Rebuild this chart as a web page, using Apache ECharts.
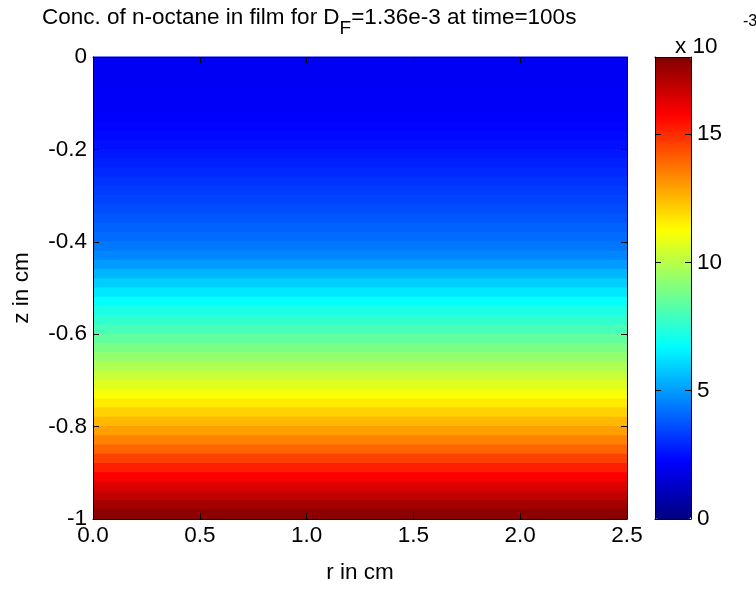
<!DOCTYPE html>
<html><head><meta charset="utf-8">
<script src="https://cdn.jsdelivr.net/npm/echarts@6/dist/echarts.min.js"></script>
<style>html,body{margin:0;padding:0;background:#fff}#c{width:756px;height:596px}</style>
</head><body><div id="c"></div>
<script>
// ---- data ----
const rRange = [0, 2.5];
const zCenters = [-0.01,-0.03,-0.05,-0.07,-0.09,-0.11,-0.13,-0.15,-0.17,-0.19,
  -0.21,-0.23,-0.25,-0.27,-0.29,-0.31,-0.33,-0.35,-0.37,-0.39,
  -0.41,-0.43,-0.45,-0.47,-0.49,-0.51,-0.53,-0.55,-0.57,-0.59,
  -0.61,-0.63,-0.65,-0.67,-0.69,-0.71,-0.73,-0.75,-0.77,-0.79,
  -0.81,-0.83,-0.85,-0.87,-0.89,-0.91,-0.93,-0.95,-0.97,-0.99];
// concentration in units of 1e-3
const concValues = [2.05,2.06,2.08,2.10,2.13,2.17,2.22,2.30,2.40,2.52,
  2.65,2.80,2.96,3.13,3.30,3.45,3.60,3.78,3.95,4.15,
  4.35,4.60,5.00,5.45,5.90,6.35,6.80,7.20,7.60,8.00,
  8.45,8.90,9.35,9.80,10.25,10.70,11.15,11.60,12.05,12.50,
  12.95,13.45,14.00,14.60,15.20,15.80,16.35,16.85,17.35,17.80];
const xTicks = [0, 0.5, 1.0, 1.5, 2.0, 2.5];
const zTicks = [0, -0.2, -0.4, -0.6, -0.8, -1];
const colorbarTicks = [0, 5, 10, 15];
const colorRange = [0, 18];
const jetColors = ['#000080','#0000ff','#0080ff','#00ffff','#80ff80','#ffff00','#ff8000','#ff0000','#800000'];

// ---- chart ----
const FONT = '"Liberation Sans", Arial, Helvetica, sans-serif';
const FS = 22.5;
const rowHalf = Math.abs(zCenters[1] - zCenters[0]) / 2;
const chart = echarts.init(document.getElementById('c'), null, {renderer: 'canvas'});
const lineStyle = {color: '#000', width: 1};
const axisLine = {show: true, onZero: false, lineStyle};
const labelStyle = {color: '#000', fontSize: FS, fontFamily: FONT};
const tick = {show: true, inside: true, length: 6, lineStyle};

const option = {
  backgroundColor: '#fff',
  animation: false,
  textStyle: {fontFamily: FONT},
  title: [
    {
      text: 'Conc. of n-octane in film for D{sub|F}=1.36e-3 at time=100s',
      left: 37, top: -7,
      textStyle: {
        fontSize: FS, fontWeight: 'normal', color: '#000', fontFamily: FONT,
        rich: {sub: {fontSize: 19, color: '#000', fontFamily: FONT, verticalAlign: 'bottom', lineHeight: 40}}
      }
    },
    {text: 'x 10', left: 670, top: 30, textStyle: {fontSize: FS, fontWeight: 'normal', color: '#000', fontFamily: FONT}},
    {text: '-3', left: 738, top: 9, textStyle: {fontSize: 16, fontWeight: 'normal', color: '#000', fontFamily: FONT}}
  ],
  grid: [
    {left: 93, right: 129, top: 57, bottom: 77, containLabel: false},
    {left: 655, width: 36, top: 57, bottom: 77, containLabel: false}
  ],
  visualMap: {
    type: 'continuous', show: true, seriesIndex: 0, dimension: 2,
    min: colorRange[0], max: colorRange[1],
    inRange: {color: jetColors},
    left: 655, top: 57, itemWidth: 36, itemHeight: 462, padding: 0,
    calculable: false, text: null, showLabel: false, hoverLink: false, realtime: false
  },
  xAxis: [
    {gridIndex: 0, type: 'value', position: 'bottom', min: 0, max: 2.5, interval: 0.5, z: 10,
     axisLine, splitLine: {show: false}, axisTick: tick,
     axisLabel: {...labelStyle, margin: 5, customValues: xTicks, formatter: v => v.toFixed(1)},
     name: 'r in cm', nameLocation: 'middle', nameGap: 42, nameTextStyle: labelStyle},
    {gridIndex: 0, type: 'value', position: 'top', min: 0, max: 2.5, interval: 0.5, z: 10,
     axisLine, splitLine: {show: false}, axisTick: tick,
     axisLabel: {show: false}},
    {gridIndex: 1, type: 'value', position: 'bottom', min: 0, max: 1, z: 10,
     axisLine, splitLine: {show: false},
     axisTick: {show: false}, axisLabel: {show: false}},
    {gridIndex: 1, type: 'value', position: 'top', min: 0, max: 1, z: 10,
     axisLine, splitLine: {show: false},
     axisTick: {show: false}, axisLabel: {show: false}}
  ],
  yAxis: [
    {gridIndex: 0, type: 'value', position: 'left', min: -1, max: 0, interval: 0.2, z: 10,
     axisLine, splitLine: {show: false}, axisTick: tick,
     axisLabel: {...labelStyle, margin: 6, customValues: zTicks, formatter: v => String(+v.toFixed(1))},
     name: 'z in cm', nameLocation: 'middle', nameGap: 60, nameRotate: 90, nameTextStyle: labelStyle},
    {gridIndex: 0, type: 'value', position: 'right', min: -1, max: 0, interval: 0.2, z: 10,
     axisLine, splitLine: {show: false}, axisTick: tick,
     axisLabel: {show: false}},
    {gridIndex: 1, type: 'value', position: 'left', min: colorRange[0], max: colorRange[1], interval: 5, z: 10,
     axisLine, splitLine: {show: false}, axisTick: tick,
     axisLabel: {show: false}},
    {gridIndex: 1, type: 'value', position: 'right', min: colorRange[0], max: colorRange[1], interval: 5, z: 10,
     axisLine, splitLine: {show: false}, axisTick: tick,
     axisLabel: {...labelStyle, margin: 6, customValues: colorbarTicks}}
  ],
  series: [{
    type: 'custom', xAxisIndex: 0, yAxisIndex: 0, z: 1,
    encode: {x: 0, y: 1},
    data: zCenters.map((z, i) => [rRange[0], z, concValues[i]]),
    renderItem: function (params, api) {
      const z = api.value(1);
      const p1 = api.coord([rRange[0], z + rowHalf]);
      const p2 = api.coord([rRange[1], z - rowHalf]);
      return {type: 'rect',
        shape: {x: p1[0], y: p1[1] - 0.5, width: p2[0] - p1[0], height: p2[1] - p1[1] + 1},
        style: {fill: api.visual('color')}};
    }
  }]
};
chart.setOption(option);
</script></body></html>
